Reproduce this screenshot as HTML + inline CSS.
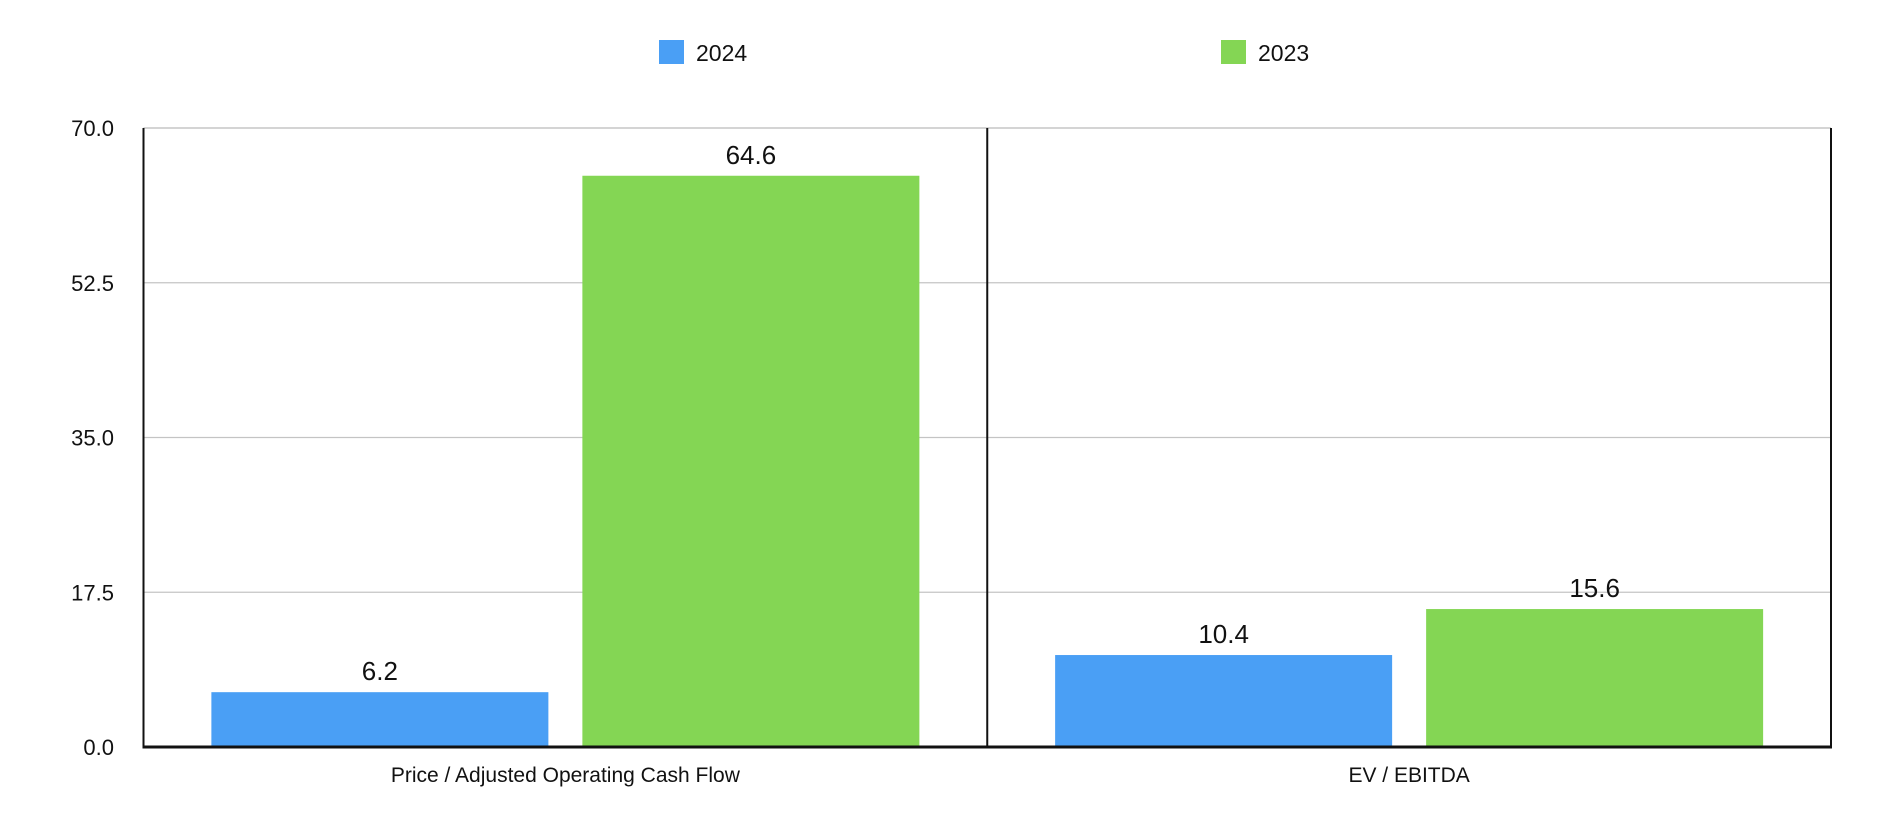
<!DOCTYPE html>
<html><head><meta charset="utf-8"><style>
html,body{margin:0;padding:0;background:#fff;}
svg{display:block;font-family:"Liberation Sans",Arial,sans-serif;}
</style></head><body>
<svg id="chart" width="1898" height="828" viewBox="0 0 1898 828">
<g id="legend">
<g><rect x="659" y="40" width="25" height="24" fill="#4a9ff5"/><text x="696" y="61" font-size="23" fill="#111">2024</text></g>
<g><rect x="1221" y="40" width="25" height="24" fill="#84d654"/><text x="1258" y="61" font-size="23" fill="#111">2023</text></g>
</g>
<g id="grid"></g>
<g id="bars"></g>
<g id="axes"></g>
</svg>
<script>
const categories = ["Price / Adjusted Operating Cash Flow", "EV / EBITDA"];
const series2024 = [6.2, 10.4];
const series2023 = [64.6, 15.6];
const yTicks = [0, 17.5, 35, 52.5, 70];
const yTickLabels = ["0.0", "17.5", "35.0", "52.5", "70.0"];
const seriesNames = ["2024", "2023"];

const NS = "http://www.w3.org/2000/svg";
const L = 143.5, R = 1831, T = 128, B = 747, yMax = 70;
const y = v => B - (v / yMax) * (B - T);
const groupW = (R - L) / categories.length;
const x = i => L + i * groupW;
function mk(tag, attrs, parent) {
  const e = document.createElementNS(NS, tag);
  for (const k in attrs) e.setAttribute(k, attrs[k]);
  parent.appendChild(e);
  return e;
}
const grid = document.getElementById('grid');
const axes = document.getElementById('axes');
const bars = document.getElementById('bars');
yTicks.forEach((t, i) => {
  if (t > 0) {
    const g = mk('line', {x1: L, x2: R, y1: y(t), y2: y(t), stroke: '#c4c4c4', 'stroke-width': 1.3}, grid);
    
    
  }
  const tl = mk('text', {x: 114, y: y(t) + 8, 'font-size': 22, 'text-anchor': 'end', fill: '#111'}, axes);
  tl.textContent = yTickLabels[i];
  
  
});
const cols = ["#4a9ff5", "#84d654"];
const barW = 337, gap = 34, pad = (groupW - 2 * barW - gap) / 2;
categories.forEach((c, i) => {
  [series2024, series2023].forEach((s, j) => {
    const bx = x(i) + pad + j * (barW + gap);
    const r = mk('rect', {x: bx, y: y(s[i]), width: barW, height: B - y(s[i]), fill: cols[j]}, bars);
    
    
    const vl = mk('text', {x: bx + barW / 2, y: y(s[i]) - 12, 'font-size': 26, 'text-anchor': 'middle', fill: '#111'}, bars);
    vl.textContent = s[i].toFixed(1);
    
    
  });
  const cl = mk('text', {x: x(i) + groupW / 2, y: 782, 'font-size': 21, 'text-anchor': 'middle', fill: '#111'}, axes);
  cl.textContent = c;
  
  
  if (i > 0) {
    const d = mk('line', {x1: x(i), x2: x(i), y1: T, y2: B, stroke: '#111', 'stroke-width': 2}, axes);
    
    
  }
});
const la = mk('line', {x1: L, x2: L, y1: T, y2: B + 1, stroke: '#111', 'stroke-width': 2}, axes);


const ra = mk('line', {x1: R, x2: R, y1: T, y2: B + 1, stroke: '#111', 'stroke-width': 2}, axes);


const xa = mk('line', {x1: L - 1, x2: R + 1, y1: B, y2: B, stroke: '#111', 'stroke-width': 3}, axes);


const tl2 = mk('line', {x1: L, x2: R, y1: T, y2: T, stroke: '#c4c4c4', 'stroke-width': 1.3}, grid);


</script>
</body></html>
